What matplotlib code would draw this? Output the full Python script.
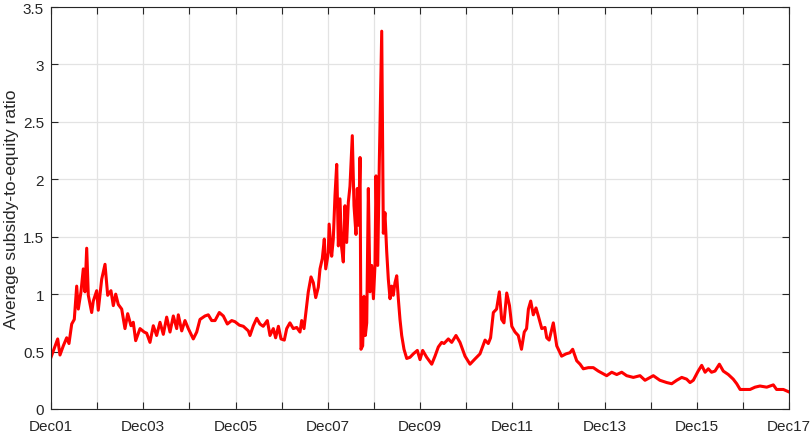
import numpy as np
import matplotlib
matplotlib.use('Agg')
import matplotlib.pyplot as plt

# time in years since Dec 2001, average subsidy-to-equity ratio
t_years = [
    0.00, 0.145, 0.195, 0.267, 0.34, 0.39, 0.449, 0.505, 0.557, 0.592,
    0.65, 0.70, 0.737, 0.774, 0.809, 0.882, 0.917, 0.991, 1.025, 1.099,
    1.171, 1.229, 1.30, 1.351, 1.403, 1.459, 1.533, 1.604, 1.663, 1.734,
    1.784, 1.836, 1.93, 2.02, 2.074, 2.146, 2.218, 2.29, 2.363, 2.435,
    2.508, 2.58, 2.652, 2.725, 2.76, 2.834, 2.905, 2.977, 3.085, 3.159,
    3.23, 3.339, 3.41, 3.484, 3.556, 3.649, 3.736, 3.823, 3.917, 3.989,
    4.083, 4.17, 4.278, 4.314, 4.386, 4.46, 4.53, 4.60, 4.69, 4.748,
    4.82, 4.87, 4.93, 4.987, 5.058, 5.11, 5.18, 5.253, 5.327, 5.398,
    5.435, 5.485, 5.544, 5.578, 5.637, 5.687, 5.739, 5.795, 5.832, 5.882,
    5.925, 5.956, 6.012, 6.03, 6.085, 6.12, 6.157, 6.194, 6.23, 6.265,
    6.30, 6.337, 6.373, 6.41, 6.446, 6.482, 6.532, 6.569, 6.612, 6.64,
    6.67, 6.70, 6.72, 6.757, 6.786, 6.815, 6.845, 6.88, 6.916, 6.953,
    6.99, 7.024, 7.046, 7.083, 7.118, 7.17, 7.205, 7.24, 7.278, 7.313,
    7.35, 7.386, 7.42, 7.458, 7.495, 7.53, 7.566, 7.603, 7.653, 7.712,
    7.783, 7.855, 7.942, 8.00, 8.058, 8.145, 8.254, 8.325, 8.397, 8.47,
    8.52, 8.614, 8.687, 8.78, 8.867, 8.976, 9.084, 9.19, 9.30, 9.41,
    9.48, 9.53, 9.59, 9.66, 9.72, 9.77, 9.82, 9.88, 9.94, 9.99,
    10.06, 10.13, 10.20, 10.26, 10.31, 10.35, 10.40, 10.456, 10.515, 10.565,
    10.64, 10.71, 10.747, 10.80, 10.89, 10.964, 11.07, 11.166, 11.25, 11.31,
    11.397, 11.47, 11.54, 11.65, 11.757, 11.866, 12.047, 12.156, 12.265, 12.373,
    12.48, 12.625, 12.77, 12.878, 13.058, 13.20, 13.35, 13.457, 13.565, 13.674,
    13.78, 13.854, 13.925, 14.03, 14.107, 14.18, 14.25, 14.32, 14.395, 14.49,
    14.575, 14.684, 14.79, 14.866, 14.94, 15.046, 15.155, 15.263, 15.37, 15.517,
    15.66, 15.73, 15.877, 15.99,
]
ratio = [
    0.45, 0.61, 0.47, 0.55, 0.62, 0.57, 0.74, 0.78, 1.07, 0.87,
    1.02, 1.22, 1.02, 1.40, 0.99, 0.84, 0.94, 1.03, 0.86, 1.13,
    1.26, 0.99, 1.03, 0.90, 1.00, 0.91, 0.87, 0.70, 0.83, 0.725,
    0.755, 0.595, 0.70, 0.67, 0.66, 0.58, 0.725, 0.64, 0.755, 0.65,
    0.80, 0.67, 0.81, 0.70, 0.82, 0.68, 0.77, 0.70, 0.61, 0.67,
    0.78, 0.81, 0.82, 0.77, 0.77, 0.84, 0.81, 0.74, 0.77, 0.76,
    0.73, 0.72, 0.68, 0.64, 0.725, 0.79, 0.74, 0.72, 0.77, 0.64,
    0.70, 0.62, 0.72, 0.61, 0.60, 0.70, 0.75, 0.70, 0.71, 0.67,
    0.77, 0.70, 0.90, 1.02, 1.15, 1.10, 0.97, 1.06, 1.22, 1.31,
    1.48, 1.22, 1.36, 1.61, 1.33, 1.48, 1.86, 2.13, 1.42, 1.83,
    1.41, 1.28, 1.77, 1.45, 1.80, 1.94, 2.38, 1.77, 1.52, 1.92,
    1.60, 2.19, 0.52, 0.55, 0.98, 0.64, 0.75, 1.92, 1.02, 1.25,
    0.96, 1.25, 2.03, 1.25, 2.15, 3.29, 1.53, 1.71, 1.37, 1.13,
    0.96, 1.07, 0.99, 1.10, 1.16, 0.96, 0.78, 0.64, 0.52, 0.44,
    0.45, 0.48, 0.51, 0.43, 0.51, 0.45, 0.39, 0.46, 0.54, 0.58,
    0.57, 0.61, 0.58, 0.64, 0.58, 0.46, 0.39, 0.435, 0.48, 0.60,
    0.57, 0.62, 0.84, 0.87, 1.02, 0.78, 0.75, 1.01, 0.90, 0.72,
    0.67, 0.64, 0.52, 0.67, 0.70, 0.87, 0.94, 0.82, 0.88, 0.81,
    0.70, 0.71, 0.62, 0.60, 0.75, 0.55, 0.46, 0.48, 0.49, 0.52,
    0.42, 0.39, 0.35, 0.36, 0.36, 0.33, 0.29, 0.32, 0.30, 0.32,
    0.29, 0.275, 0.29, 0.25, 0.29, 0.25, 0.23, 0.22, 0.25, 0.275,
    0.26, 0.23, 0.25, 0.33, 0.38, 0.32, 0.35, 0.32, 0.33, 0.39,
    0.33, 0.30, 0.26, 0.22, 0.17, 0.17, 0.17, 0.19, 0.20, 0.19,
    0.21, 0.17, 0.17, 0.15,
]
year_labels = ['Dec01', '', 'Dec03', '', 'Dec05', '', 'Dec07', '', 'Dec09',
               '', 'Dec11', '', 'Dec13', '', 'Dec15', '', 'Dec17']
y_ticks = [0, 0.5, 1, 1.5, 2, 2.5, 3, 3.5]
y_labels = ['0', '0.5', '1', '1.5', '2', '2.5', '3', '3.5']

plt.rcParams['font.family'] = ['Liberation Sans', 'DejaVu Sans']
axis_grey = '#262626'

fig = plt.figure(figsize=(8.12, 4.35), dpi=100)
ax = fig.add_axes([0.0628, 0.0575, 0.9089, 0.924])
ax.plot(t_years, ratio, color='#ff0000', linewidth=2.2)

ax.set_xlim(0, 16)
ax.set_ylim(0, 3.5)
ax.set_xticks(range(len(year_labels)))
ax.set_xticklabels(year_labels)
ax.set_yticks(y_ticks)
ax.set_yticklabels(y_labels)
ax.set_ylabel('Average subsidy-to-equity ratio', fontsize=12.5, color=axis_grey, labelpad=3)

ax.grid(True, color='#e3e3e3', linewidth=0.9)
ax.set_axisbelow(True)
ax.tick_params(direction='in', length=5, width=0.8, colors=axis_grey,
               labelsize=11, top=True, right=True)
ax.tick_params(axis='x', pad=7)
ax.tick_params(axis='y', pad=5)
for s in ax.spines.values():
    s.set_color(axis_grey)
    s.set_linewidth(0.8)

fig.savefig('out.png', dpi=100)
